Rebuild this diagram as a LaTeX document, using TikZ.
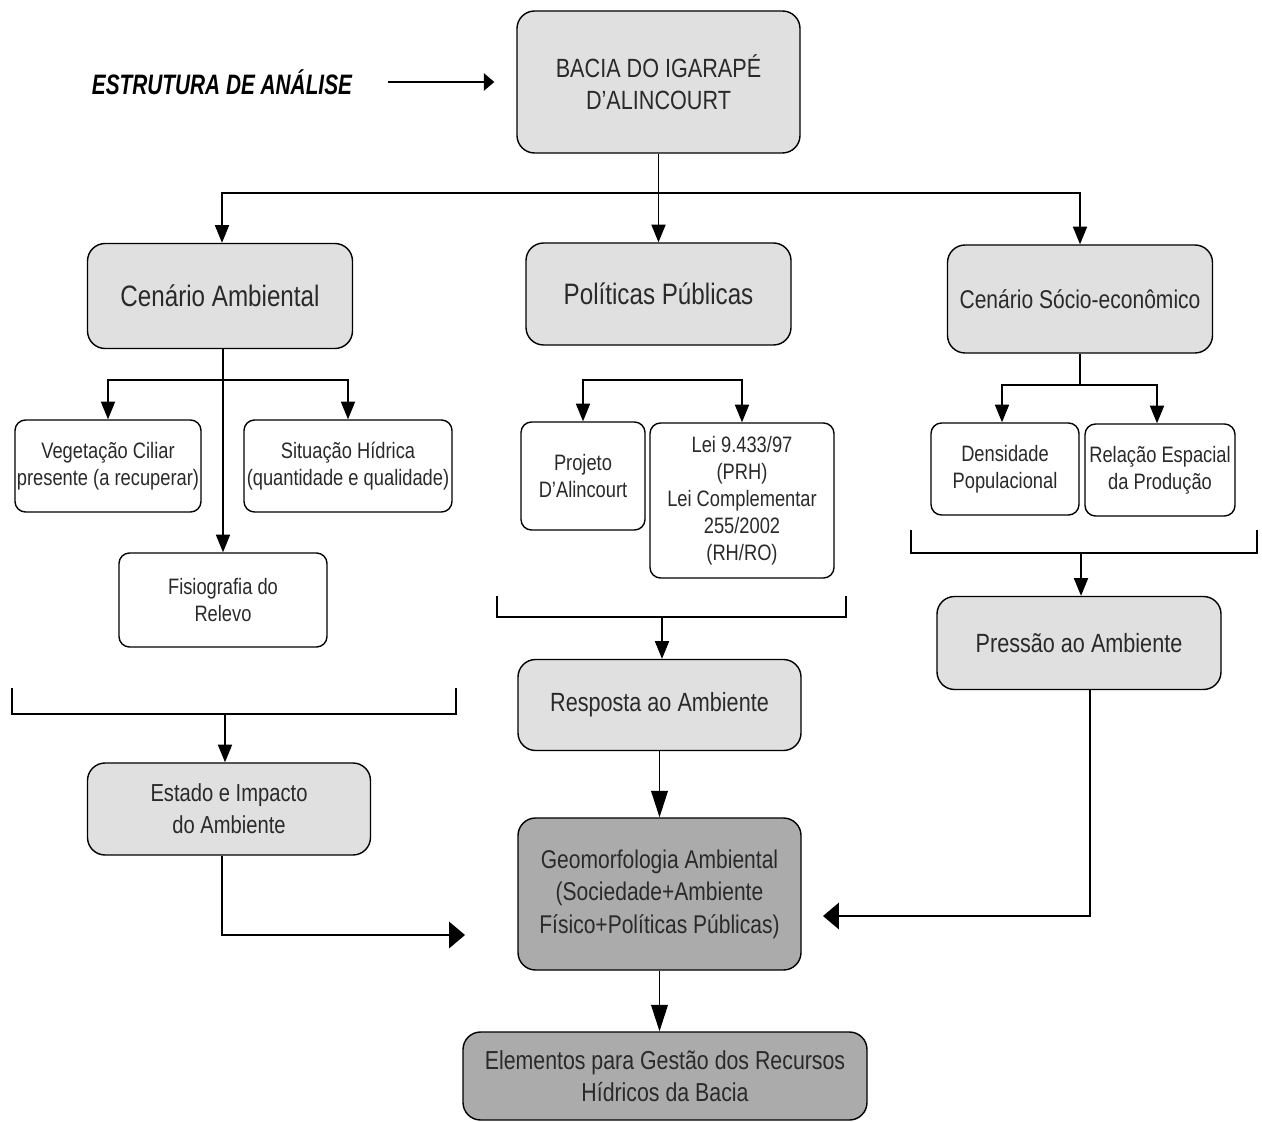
\documentclass[tikz,border=0pt]{standalone}
\usepackage{fontspec}
\setmainfont[FakeStretch=0.82]{Liberation Sans}
\newfontfamily\headfont[FakeStretch=0.74]{Liberation Sans}
\usetikzlibrary{arrows.meta,positioning}
\definecolor{lightbox}{HTML}{E0E0E0}
\definecolor{darkbox}{HTML}{ABABAB}
\definecolor{inkgray}{HTML}{2A2A2A}

\begin{document}
\begin{tikzpicture}[
    main/.style={draw, line width=0.8pt, rounded corners=10pt, fill=lightbox, align=center, inner sep=2pt, text=inkgray, font=\fontsize{15}{18.5}\selectfont},
    dark/.style={main, fill=darkbox},
    sub/.style={draw, line width=0.8pt, rounded corners=6pt, fill=white, align=center, inner sep=1pt, text=inkgray, font=\fontsize{12.7}{15.3}\selectfont},
    link/.style={line width=0.8pt},
    flow/.style={-{Triangle[length=10pt,width=8pt]}, line width=0.8pt},
    sideflow/.style={-{Triangle[length=6pt,width=10pt]}, line width=0.8pt},
    bigflow/.style={-{Triangle[length=15pt,width=9.5pt]}, line width=0.8pt},
    bigside/.style={-{Triangle[length=9pt,width=15pt]}, line width=0.8pt}
]
    \useasboundingbox (0,0) rectangle (25.24,-22.44);

    \node[font=\headfont\bfseries\itshape\fontsize{16}{19}\selectfont] (estrut) at (4.44,-1.64) {ESTRUTURA DE ANÁLISE};
    \node[main, minimum width=5.66cm, minimum height=2.84cm] (bacia) at (13.17,-1.64) {BACIA DO IGARAPÉ\\D'ALINCOURT};
    \draw[sideflow] ([xshift=0.6cm]estrut.east) -- ([xshift=-0.44cm]bacia.west);

    % three scenarios
    \node[main, minimum width=5.3cm, minimum height=2.1cm, font=\fontsize{16.8}{20}\selectfont] (cenAmb) at (4.40,-5.92) {Cenário Ambiental};
    \node[main, minimum width=5.3cm, minimum height=2.04cm, font=\fontsize{16.8}{20}\selectfont] (polit) at (13.17,-5.88) {Políticas Públicas};
    \node[main, minimum width=5.3cm, minimum height=2.16cm, font=\fontsize{14.6}{18}\selectfont] (socio) at (21.6,-5.98) {Cenário Sócio-econômico};

    \coordinate (t1) at (13.17,-3.86);
    \draw[link] (bacia) -- (t1);
    \draw[flow] (t1) -| ([xshift=0.04cm]cenAmb.north);
    \draw[flow] (t1) -- (polit);
    \draw[flow] (t1) -| (socio);

    % ambiental
    \node[sub, minimum width=3.72cm, minimum height=1.84cm] (veget) at (2.16,-9.32) {Vegetação Ciliar\\presente (a recuperar)};
    \node[sub, minimum width=4.16cm, minimum height=1.84cm] (situ) at (6.96,-9.32) {Situação Hídrica\\(quantidade e qualidade)};
    \node[sub, minimum width=4.16cm, minimum height=1.88cm] (fisio) at (4.46,-12.0) {Fisiografia do\\Relevo};
    \coordinate (a1) at (4.46,-7.6);
    \draw[flow] (cenAmb.south -| fisio) -- (fisio);
    \draw[flow] (a1) -| (veget);
    \draw[flow] (a1) -| (situ);
    \draw[link] (0.24,-13.76) |- (9.12,-14.28) -- (9.12,-13.76);
    \node[main, minimum width=5.66cm, minimum height=1.84cm, font=\fontsize{14}{18}\selectfont] (estado) at (4.58,-16.18) {Estado e Impacto\\do Ambiente};
    \coordinate (b1) at (4.5,-14.28);
    \draw[flow] (b1) -- (b1 |- estado.north);

    % politicas
    \node[sub, minimum width=2.48cm, minimum height=2.16cm] (projeto) at (11.66,-9.52) {Projeto\\D'Alincourt};
    \node[sub, minimum width=3.68cm, minimum height=3.1cm] (lei) at (14.84,-10.01) {Lei 9.433/97\\(PRH)\\Lei Complementar\\255/2002\\(RH/RO)};
    \coordinate (m1) at (13.17,-7.6);
    \draw[flow] (m1) -| (projeto);
    \draw[flow] (m1) -| (lei);
    \draw[link] (9.94,-11.92) |- (16.92,-12.34) -- (16.92,-11.92);
    \node[main, minimum width=5.66cm, minimum height=1.82cm] (resposta) at (13.19,-14.1) {Resposta ao Ambiente};
    \coordinate (b2) at (13.24,-12.34);
    \draw[flow] (b2) -- (b2 |- resposta.north);

    % socio-economico
    \node[sub, minimum width=2.96cm, minimum height=1.84cm] (dens) at (20.1,-9.38) {Densidade\\Populacional};
    \node[sub, minimum width=3.0cm, minimum height=1.84cm] (relac) at (23.2,-9.4) {Relação Espacial\\da Produção};
    \coordinate (s1) at (21.6,-7.7);
    \draw[link] (socio) -- (s1);
    \draw[flow] (s1) -| ([xshift=-0.06cm]dens.north);
    \draw[flow] (s1) -| ([xshift=-0.06cm]relac.north);
    \draw[link] (18.22,-10.6) |- (25.14,-11.06) -- (25.14,-10.6);
    \node[main, minimum width=5.68cm, minimum height=1.86cm] (pressao) at (21.58,-12.86) {Pressão ao Ambiente};
    \coordinate (b3) at (21.62,-11.06);
    \draw[flow] (b3) -- (b3 |- pressao.north);

    % sintese
    \node[dark, minimum width=5.66cm, minimum height=3.04cm, font=\fontsize{14.6}{18.5}\selectfont] (geomorf) at (13.19,-17.88) {Geomorfologia Ambiental\\(Sociedade+Ambiente\\Físico+Políticas Públicas)};
    \node[dark, minimum width=8.08cm, minimum height=1.76cm, font=\fontsize{14.8}{18.5}\selectfont] (elem) at (13.3,-21.52) {Elementos para Gestão dos Recursos\\Hídricos da Bacia};
    \draw[bigflow] (resposta) -- (geomorf);
    \draw[bigflow] (geomorf) -- (geomorf.south |- elem.north);
    \coordinate (gl) at (9.3,-18.7);
    \coordinate (gr) at (16.46,-18.32);
    \draw[bigside] ([xshift=-0.14cm]estado.south) |- (gl);
    \draw[bigside] ([xshift=0.22cm]pressao.south) |- (gr);
\end{tikzpicture}
\end{document}
